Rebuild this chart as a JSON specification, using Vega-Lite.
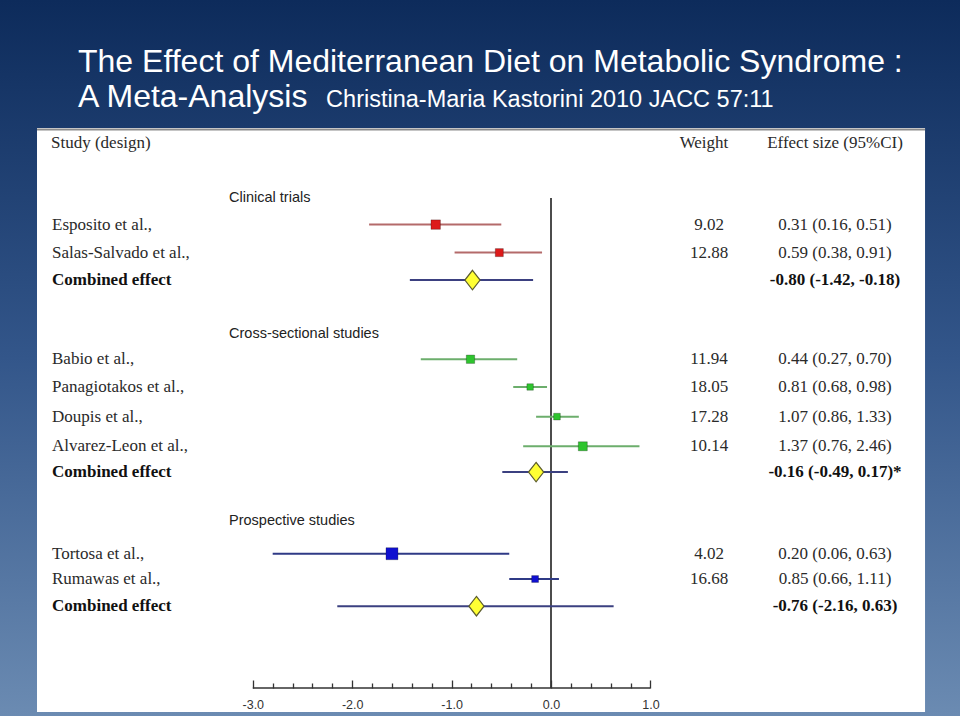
{
  "$schema": "https://vega.github.io/schema/vega-lite/v6.json",
  "width": 960,
  "height": 716,
  "autosize": "none",
  "padding": 0,
  "background": "#2b4a78",
  "config": {
    "view": {
      "stroke": null,
      "fill": {"gradient": "linear", "x1": 0, "y1": 0, "x2": 0, "y2": 1,
        "stops": [{"offset": 0, "color": "#0d2b5b"}, {"offset": 0.5, "color": "#33568a"}, {"offset": 1, "color": "#6b8bb2"}]}
    }
  },
  "title": {
    "text": ["The Effect of Mediterranean Diet on Metabolic Syndrome :", "A Meta-Analysis"],
    "subtitle": "\u200b\u00a0\u00a0\u00a0\u00a0\u00a0\u00a0\u00a0\u00a0\u00a0\u00a0\u00a0\u00a0\u00a0\u00a0\u00a0\u00a0\u00a0\u00a0\u00a0\u00a0\u00a0\u00a0\u00a0\u00a0\u00a0\u00a0\u00a0\u00a0\u00a0\u00a0\u00a0\u00a0\u00a0\u00a0\u00a0\u00a0\u00a0\u00a0Christina-Maria Kastorini 2010 JACC 57:11",
    "anchor": "start",
    "frame": "group",
    "orient": "top",
    "dx": 78,
    "offset": -114,
    "font": "Liberation Sans",
    "fontSize": 32,
    "fontWeight": "normal",
    "color": "#ffffff",
    "lineHeight": 35,
    "subtitleFont": "Liberation Sans",
    "subtitleFontSize": 23.5,
    "subtitleColor": "#ffffff",
    "subtitlePadding": -26
  },
  "resolve": {"axis": {"x": "independent", "y": "independent"}},
  "data": {
    "values": [
      {"group": "Clinical trials", "kind": "header", "label": "Clinical trials", "row": 2.02},
      {"group": "Clinical trials", "kind": "study", "label": "Esposito et al.,", "row": 3.0, "est": -1.16, "lo": -1.83, "hi": -0.5, "weight": 9.02, "es": "0.31 (0.16, 0.51)"},
      {"group": "Clinical trials", "kind": "study", "label": "Salas-Salvado et al.,", "row": 4.03, "est": -0.52, "lo": -0.97, "hi": -0.09, "weight": 12.88, "es": "0.59 (0.38, 0.91)"},
      {"group": "Clinical trials", "kind": "combined", "label": "Combined effect", "row": 5.04, "est": -0.79, "lo": -1.42, "hi": -0.18, "es": "-0.80 (-1.42, -0.18)"},
      {"group": "Cross-sectional studies", "kind": "header", "label": "Cross-sectional studies", "row": 7.02},
      {"group": "Cross-sectional studies", "kind": "study", "label": "Babio et al.,", "row": 7.95, "est": -0.81, "lo": -1.31, "hi": -0.34, "weight": 11.94, "es": "0.44 (0.27, 0.70)"},
      {"group": "Cross-sectional studies", "kind": "study", "label": "Panagiotakos et al.,", "row": 8.97, "est": -0.21, "lo": -0.38, "hi": -0.04, "weight": 18.05, "es": "0.81 (0.68, 0.98)"},
      {"group": "Cross-sectional studies", "kind": "study", "label": "Doupis et al.,", "row": 10.06, "est": 0.06, "lo": -0.15, "hi": 0.28, "weight": 17.28, "es": "1.07 (0.86, 1.33)"},
      {"group": "Cross-sectional studies", "kind": "study", "label": "Alvarez-Leon et al.,", "row": 11.15, "est": 0.32, "lo": -0.28, "hi": 0.89, "weight": 10.14, "es": "1.37 (0.76, 2.46)"},
      {"group": "Cross-sectional studies", "kind": "combined", "label": "Combined effect", "row": 12.1, "est": -0.15, "lo": -0.49, "hi": 0.17, "es": "-0.16 (-0.49, 0.17)*"},
      {"group": "Prospective studies", "kind": "header", "label": "Prospective studies", "row": 13.9},
      {"group": "Prospective studies", "kind": "study", "label": "Tortosa et al.,", "row": 15.1, "est": -1.6, "lo": -2.8, "hi": -0.42, "weight": 4.02, "es": "0.20 (0.06, 0.63)"},
      {"group": "Prospective studies", "kind": "study", "label": "Rumawas et al.,", "row": 16.03, "est": -0.16, "lo": -0.42, "hi": 0.08, "weight": 16.68, "es": "0.85 (0.66, 1.11)"},
      {"group": "Prospective studies", "kind": "combined", "label": "Combined effect", "row": 17.03, "est": -0.75, "lo": -2.15, "hi": 0.63, "es": "-0.76 (-2.16, 0.63)"}
    ]
  },
  "layer": [
    {
      "data": {"values": [{}]},
      "mark": {"type": "rect", "fill": "#ffffff"},
      "encoding": {
        "x": {"datum": -5.171, "type": "quantitative", "scale": {"domain": [-5.5433, 4.1147], "nice": false, "zero": false}, "axis": null},
        "x2": {"datum": 3.763},
        "y": {"datum": -0.5515, "type": "quantitative", "scale": {"domain": [-5.2574, 21.0662], "nice": false, "zero": false, "reverse": true}, "axis": null},
        "y2": {"datum": 20.92}
      }
    },
    {
      "data": {"values": [{}]},
      "mark": {"type": "rule", "color": "#8c8c8c", "strokeWidth": 2},
      "encoding": {
        "x": {"datum": -5.171, "type": "quantitative", "scale": {"domain": [-5.5433, 4.1147], "nice": false, "zero": false}, "axis": null},
        "x2": {"datum": 3.763},
        "y": {"datum": -0.5, "type": "quantitative", "scale": {"domain": [-5.2574, 21.0662], "nice": false, "zero": false, "reverse": true}, "axis": null}
      }
    },
    {
      "data": {"values": [{}]},
      "mark": {"type": "rule", "color": "#111111", "strokeWidth": 1.5},
      "encoding": {
        "x": {"datum": 0, "type": "quantitative", "scale": {"domain": [-5.5433, 4.1147], "nice": false, "zero": false}, "axis": null},
        "y": {"datum": 2.02, "type": "quantitative", "scale": {"domain": [-5.2574, 21.0662], "nice": false, "zero": false, "reverse": true}, "axis": null},
        "y2": {"datum": 20.037}
      }
    },
    {
      "data": {"values": [{}]},
      "mark": {"type": "rule", "color": "#333333", "strokeWidth": 1.5},
      "encoding": {
        "x": {"datum": -3, "type": "quantitative", "scale": {"domain": [-5.5433, 4.1147], "nice": false, "zero": false}, "axis": null},
        "x2": {"datum": 1},
        "y": {"datum": 20.037, "type": "quantitative", "scale": {"domain": [-5.2574, 21.0662], "nice": false, "zero": false, "reverse": true}, "axis": null}
      }
    },
    {
      "transform": [{"filter": "datum.kind === 'study'"}],
      "mark": {"type": "rule", "strokeWidth": 2},
      "encoding": {
        "x": {"field": "lo", "type": "quantitative", "scale": {"domain": [-5.5433, 4.1147], "nice": false, "zero": false},
          "axis": {
            "title": null, "domain": false, "grid": false, "zindex": 2, "orient": "bottom",
            "values": [-3, -2.8, -2.6, -2.4, -2.2, -2, -1.8, -1.6, -1.4, -1.2, -1, -0.8, -0.6, -0.4, -0.2, 0, 0.2, 0.4, 0.6, 0.8, 1],
            "ticks": true, "tickColor": "#333333", "tickWidth": 1.3,
            "tickSize": {"condition": {"test": "datum.value % 1 === 0", "value": -8}, "value": -5},
            "labelExpr": "datum.value % 1 === 0 ? (datum.value === 0 ? '0.0' : datum.value + '.0') : ''",
            "labelFont": "Liberation Sans", "labelFontSize": 12.5, "labelColor": "#333333",
            "labelPadding": 18, "labelOverlap": false, "labelFlush": false, "labelBound": false,
            "offset": -28
          }},
        "x2": {"field": "hi"},
        "y": {"field": "row", "type": "quantitative", "scale": {"domain": [-5.2574, 21.0662], "nice": false, "zero": false, "reverse": true}, "axis": null},
        "stroke": {"field": "group", "type": "nominal", "legend": null,
          "scale": {"domain": ["Clinical trials", "Cross-sectional studies", "Prospective studies"], "range": ["#b46a6a", "#6cae6c", "#2f3a86"]}}
      }
    },
    {
      "transform": [{"filter": "datum.kind === 'combined'"}],
      "mark": {"type": "rule", "strokeWidth": 2, "color": "#3b4080"},
      "encoding": {
        "x": {"field": "lo", "type": "quantitative", "scale": {"domain": [-5.5433, 4.1147], "nice": false, "zero": false}, "axis": null},
        "x2": {"field": "hi"},
        "y": {"field": "row", "type": "quantitative", "scale": {"domain": [-5.2574, 21.0662], "nice": false, "zero": false, "reverse": true}, "axis": null}
      }
    },
    {
      "transform": [{"filter": "datum.kind === 'study'"}],
      "mark": {"type": "point", "shape": "square", "filled": true, "opacity": 1, "stroke": "#000000", "strokeOpacity": 0.25, "strokeWidth": 1},
      "encoding": {
        "x": {"field": "est", "type": "quantitative", "scale": {"domain": [-5.5433, 4.1147], "nice": false, "zero": false}, "axis": null},
        "y": {"field": "row", "type": "quantitative", "scale": {"domain": [-5.2574, 21.0662], "nice": false, "zero": false, "reverse": true}, "axis": null},
        "fill": {"field": "group", "type": "nominal", "legend": null,
          "scale": {"domain": ["Clinical trials", "Cross-sectional studies", "Prospective studies"], "range": ["#dd1a1a", "#2ec42e", "#1010d0"]}},
        "size": {"field": "weight", "type": "quantitative", "legend": null,
          "scale": {"type": "log", "domain": [4, 18.05], "range": [144, 42]}}
      }
    },
    {
      "transform": [{"filter": "datum.kind === 'combined'"}],
      "mark": {"type": "point", "shape": "M0,-1L0.78,0L0,1L-0.78,0Z", "size": 380, "filled": true, "fill": "#ffff33", "stroke": "#5c5c2e", "strokeWidth": 1.2, "opacity": 1},
      "encoding": {
        "x": {"field": "est", "type": "quantitative", "scale": {"domain": [-5.5433, 4.1147], "nice": false, "zero": false}, "axis": null},
        "y": {"field": "row", "type": "quantitative", "scale": {"domain": [-5.2574, 21.0662], "nice": false, "zero": false, "reverse": true}, "axis": null}
      }
    },
    {
      "transform": [{"filter": "datum.kind === 'study'"}],
      "mark": {"type": "text", "align": "left", "baseline": "middle", "font": "Liberation Serif", "fontSize": 17, "color": "#2a2a2a"},
      "encoding": {
        "x": {"datum": -5.02, "type": "quantitative", "scale": {"domain": [-5.5433, 4.1147], "nice": false, "zero": false}, "axis": null},
        "y": {"field": "row", "type": "quantitative", "scale": {"domain": [-5.2574, 21.0662], "nice": false, "zero": false, "reverse": true}, "axis": null},
        "text": {"field": "label"}
      }
    },
    {
      "transform": [{"filter": "datum.kind === 'combined'"}],
      "mark": {"type": "text", "align": "left", "baseline": "middle", "font": "Liberation Serif", "fontSize": 17, "fontWeight": "bold", "color": "#111111"},
      "encoding": {
        "x": {"datum": -5.02, "type": "quantitative", "scale": {"domain": [-5.5433, 4.1147], "nice": false, "zero": false}, "axis": null},
        "y": {"field": "row", "type": "quantitative", "scale": {"domain": [-5.2574, 21.0662], "nice": false, "zero": false, "reverse": true}, "axis": null},
        "text": {"field": "label"}
      }
    },
    {
      "transform": [{"filter": "datum.kind === 'header'"}],
      "mark": {"type": "text", "align": "left", "baseline": "middle", "font": "Liberation Sans", "fontSize": 14.5, "color": "#222222"},
      "encoding": {
        "x": {"datum": -3.239, "type": "quantitative", "scale": {"domain": [-5.5433, 4.1147], "nice": false, "zero": false}, "axis": null},
        "y": {"field": "row", "type": "quantitative", "scale": {"domain": [-5.2574, 21.0662], "nice": false, "zero": false, "reverse": true}, "axis": null},
        "text": {"field": "label"}
      }
    },
    {
      "transform": [{"filter": "datum.kind === 'study'"}],
      "mark": {"type": "text", "align": "center", "baseline": "middle", "font": "Liberation Serif", "fontSize": 17, "color": "#2a2a2a"},
      "encoding": {
        "x": {"datum": 1.59, "type": "quantitative", "scale": {"domain": [-5.5433, 4.1147], "nice": false, "zero": false}, "axis": null},
        "y": {"field": "row", "type": "quantitative", "scale": {"domain": [-5.2574, 21.0662], "nice": false, "zero": false, "reverse": true}, "axis": null},
        "text": {"field": "weight", "type": "quantitative", "format": ".2f"}
      }
    },
    {
      "transform": [{"filter": "datum.kind === 'study'"}],
      "mark": {"type": "text", "align": "center", "baseline": "middle", "font": "Liberation Serif", "fontSize": 17, "color": "#2a2a2a"},
      "encoding": {
        "x": {"datum": 2.857, "type": "quantitative", "scale": {"domain": [-5.5433, 4.1147], "nice": false, "zero": false}, "axis": null},
        "y": {"field": "row", "type": "quantitative", "scale": {"domain": [-5.2574, 21.0662], "nice": false, "zero": false, "reverse": true}, "axis": null},
        "text": {"field": "es"}
      }
    },
    {
      "transform": [{"filter": "datum.kind === 'combined'"}],
      "mark": {"type": "text", "align": "center", "baseline": "middle", "font": "Liberation Serif", "fontSize": 17, "fontWeight": "bold", "color": "#111111"},
      "encoding": {
        "x": {"datum": 2.857, "type": "quantitative", "scale": {"domain": [-5.5433, 4.1147], "nice": false, "zero": false}, "axis": null},
        "y": {"field": "row", "type": "quantitative", "scale": {"domain": [-5.2574, 21.0662], "nice": false, "zero": false, "reverse": true}, "axis": null},
        "text": {"field": "es"}
      }
    },
    {
      "data": {"values": [{}]},
      "mark": {"type": "text", "align": "left", "baseline": "middle", "font": "Liberation Serif", "fontSize": 17, "color": "#2a2a2a"},
      "encoding": {
        "x": {"datum": -5.03, "type": "quantitative", "scale": {"domain": [-5.5433, 4.1147], "nice": false, "zero": false}, "axis": null},
        "y": {"datum": 0, "type": "quantitative", "scale": {"domain": [-5.2574, 21.0662], "nice": false, "zero": false, "reverse": true}, "axis": null},
        "text": {"value": "Study (design)"}
      }
    },
    {
      "data": {"values": [{}]},
      "mark": {"type": "text", "align": "center", "baseline": "middle", "font": "Liberation Serif", "fontSize": 17, "color": "#2a2a2a"},
      "encoding": {
        "x": {"datum": 1.539, "type": "quantitative", "scale": {"domain": [-5.5433, 4.1147], "nice": false, "zero": false}, "axis": null},
        "y": {"datum": 0, "type": "quantitative", "scale": {"domain": [-5.2574, 21.0662], "nice": false, "zero": false, "reverse": true}, "axis": null},
        "text": {"value": "Weight"}
      }
    },
    {
      "data": {"values": [{}]},
      "mark": {"type": "text", "align": "center", "baseline": "middle", "font": "Liberation Serif", "fontSize": 17, "color": "#2a2a2a"},
      "encoding": {
        "x": {"datum": 2.857, "type": "quantitative", "scale": {"domain": [-5.5433, 4.1147], "nice": false, "zero": false}, "axis": null},
        "y": {"datum": 0, "type": "quantitative", "scale": {"domain": [-5.2574, 21.0662], "nice": false, "zero": false, "reverse": true}, "axis": null},
        "text": {"value": "Effect size (95%CI)"}
      }
    }
  ]
}
